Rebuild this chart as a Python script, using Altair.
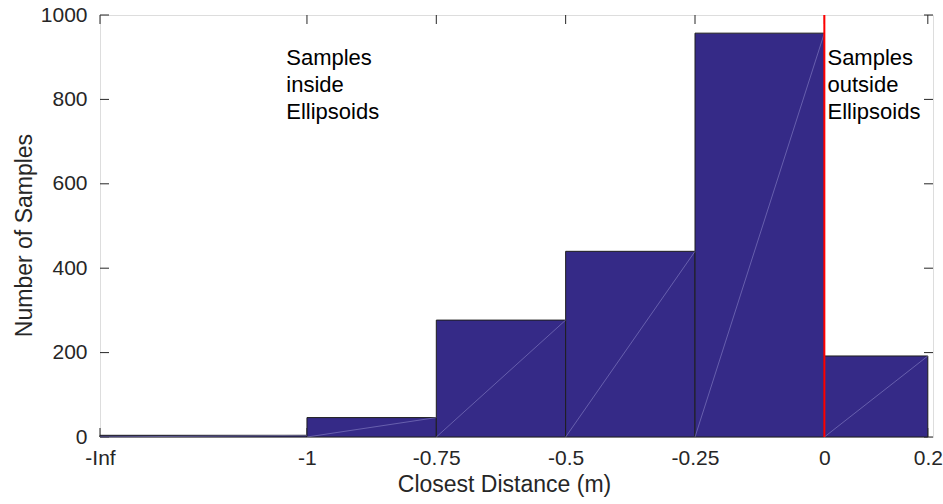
import altair as alt
import pandas as pd

# Histogram of closest distances; the open-ended first bin (-Inf, -1] is drawn from -1.4
bin_edges = [-1.4, -1.0, -0.75, -0.5, -0.25, 0.0, 0.2]
counts = [4, 46, 277, 440, 957, 192]

x_tick_values = [-1.4, -1.0, -0.75, -0.5, -0.25, 0.0, 0.2]
x_tick_labels = ["-Inf", "-1", "-0.75", "-0.5", "-0.25", "0", "0.2"]
y_tick_values = [0, 200, 400, 600, 800, 1000]

note_lines = [["Samples", "inside", "Ellipsoids"], ["Samples", "outside", "Ellipsoids"]]
note_x = [-1.04, 0.006]
note_y = [921, 921]

boundary_x = [0.0]
y_max = 1000

W, H = 833, 422
TICK = 9
FONT = "Liberation Sans"
AXIS_GRAY = "#262626"

bars = pd.DataFrame({"start": bin_edges[:-1], "end": bin_edges[1:], "count": counts})
bars["base"] = 0
xticks = pd.DataFrame({"v": x_tick_values})
yticks = pd.DataFrame({"v": y_tick_values})
notes = pd.DataFrame({"x": note_x, "y": note_y, "text": note_lines})
boundary = pd.DataFrame({"x": boundary_x, "y0": [0], "y1": [y_max]})

x_scale = alt.Scale(domain=[-1.4, 0.21], nice=False, zero=False)
y_scale = alt.Scale(domain=[0, y_max], nice=False)

label_expr = ""
for v, lab in zip(x_tick_values, x_tick_labels):
    label_expr += f"abs(datum.value - ({v})) < 1e-6 ? '{lab}' : "
label_expr += "datum.label"

x_axis = alt.Axis(
    values=x_tick_values, labelExpr=label_expr, ticks=False, domain=False, grid=False,
    title="Closest Distance (m)", labelPadding=10, titlePadding=5, titleX=404,
    labelFontSize=21, titleFontSize=23, labelColor=AXIS_GRAY, titleColor=AXIS_GRAY,
    labelFont=FONT, titleFont=FONT, titleFontWeight="normal", labelFlush=False,
    labelOverlap=False,
)
y_axis = alt.Axis(
    values=y_tick_values, format="d", ticks=False, domain=False, grid=False,
    title="Number of Samples", labelPadding=13, titlePadding=4, titleY=220,
    labelFontSize=21, titleFontSize=23, labelColor=AXIS_GRAY, titleColor=AXIS_GRAY,
    labelFont=FONT, titleFont=FONT, titleFontWeight="normal", labelFlush=False,
    labelOverlap=False,
)


def xq(field):
    return alt.X(field, type="quantitative", scale=x_scale, axis=x_axis)


def yq(field):
    return alt.Y(field, type="quantitative", scale=y_scale, axis=y_axis)


# inward tick marks on all four sides of the box
top_ticks = alt.Chart(xticks).mark_rule(color=AXIS_GRAY, strokeWidth=1).encode(
    x=xq("v"), y=alt.value(0), y2=alt.value(TICK))
bottom_ticks = alt.Chart(xticks).mark_rule(color=AXIS_GRAY, strokeWidth=1).encode(
    x=xq("v"), y=alt.value(H), y2=alt.value(H - TICK))
left_ticks = alt.Chart(yticks).mark_rule(color=AXIS_GRAY, strokeWidth=1).encode(
    y=yq("v"), x=alt.value(0), x2=alt.value(TICK))
right_ticks = alt.Chart(yticks).mark_rule(color=AXIS_GRAY, strokeWidth=1).encode(
    y=yq("v"), x=alt.value(W), x2=alt.value(W - TICK))

hist = alt.Chart(bars).mark_rect(color="#352a87", stroke="#1e1e1e", strokeWidth=1).encode(
    x=xq("start"), x2="end:Q", y=yq("count"), y2="base:Q",
)

# faint diagonal seam across each patch
seams = alt.Chart(bars).mark_rule(color="#9f9ad6", strokeWidth=0.6, opacity=0.8).encode(
    x=xq("start"), x2="end:Q", y=yq("base"), y2="count:Q",
)

boundary_line = alt.Chart(boundary).mark_rule(color="#ff0000", strokeWidth=2).encode(
    x=xq("x"), y=yq("y0"), y2="y1:Q",
)

labels = alt.Chart(notes).mark_text(
    align="left", baseline="top", font=FONT, fontSize=22, lineHeight=27, color="#000000"
).encode(
    x=xq("x"), y=yq("y"), text="text",
)

chart = alt.layer(
    top_ticks, bottom_ticks, left_ticks, right_ticks, hist, seams, boundary_line, labels
).properties(
    width=W, height=H,
    autosize=alt.AutoSizeParams(type="none"),
    padding={"left": 100, "top": 15, "right": 10, "bottom": 67},
).configure_view(
    stroke="#404040", strokeWidth=1
).configure(background="white")

chart.save("out.html", embed_options={"renderer": "svg", "actions": False})
